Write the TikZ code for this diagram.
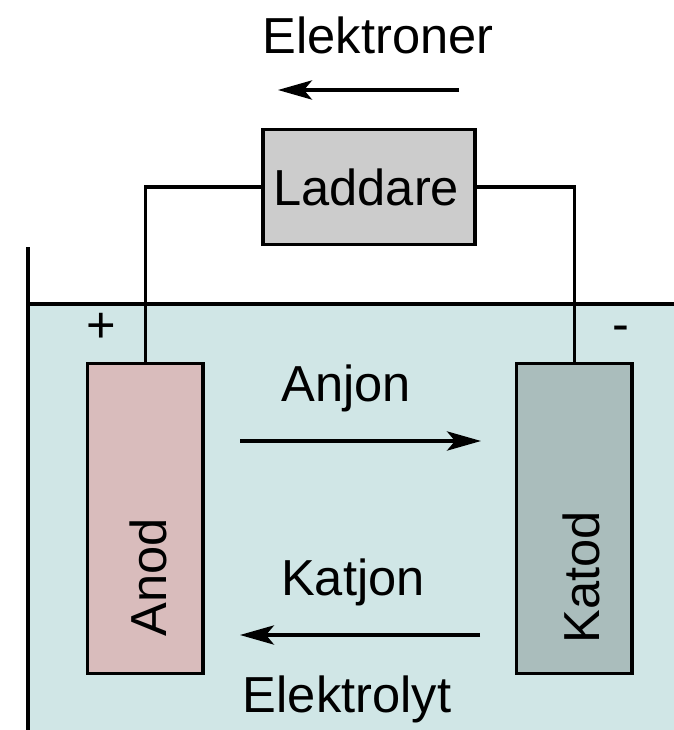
\documentclass[tikz,border=0pt]{standalone}
\usepackage{fontspec}
\setmainfont{Liberation Sans}
\usetikzlibrary{arrows.meta}
\definecolor{bathcol}{RGB}{208,230,230}
\definecolor{anodcol}{RGB}{217,188,188}
\definecolor{katodcol}{RGB}{170,189,188}
\definecolor{laddcol}{RGB}{204,204,204}
\tikzset{
  plate/.style={draw, line width=2.6pt, outer sep=0pt, minimum width=2.89cm, minimum height=7.75cm, anchor=south west, inner sep=0pt},
  lbl/.style={font=\fontsize{36}{36}\selectfont, inner sep=0pt},
  wire/.style={line width=2.2pt},
  flow/.style={line width=2.2pt, -{Stealth[length=0.85cm, width=0.48cm, inset=0.2cm]}}
}
\begin{document}
\begin{tikzpicture}[x=0.025cm, y=-0.025cm]
  \useasboundingbox (0, 0) rectangle (674, 730);
  \fill[bathcol] (28, 304) rectangle (674, 730);
  \draw[wire] (28, 247) -- (28, 730);
  \draw[wire] (28, 304) -- (674, 304);

  \node[plate, fill=anodcol] (anod) at (87.5, 673.5) {};
  \node[plate, fill=katodcol] (katod) at (516.5, 673.5) {};

  \draw[wire] (369, 187) -- (anod.north |- 0, 187) -- (anod.north);
  \draw[wire] (369, 187) -- (katod.north |- 0, 187) -- (katod.north);
  \node[draw, line width=2.6pt, outer sep=0pt, fill=laddcol, minimum width=5.3cm, minimum height=2.875cm, inner sep=0pt, font=\fontsize{36}{36}\selectfont] (laddare) at (369, 187) {\hspace{-4pt}\raisebox{-2pt}{Laddare}};

  \node[lbl, rotate=90] (anodtext) at (148, 577) {Anod};
  \node[lbl, rotate=90] (katodtext) at (581, 577) {Katod};
  \node[lbl] (elektroner) at (378, 35) {Elektroner};
  \node[lbl] (anjon) at (346, 388) {Anjon};
  \node[lbl] (katjon) at (353, 582) {Katjon};
  \node[lbl] (elektrolyt) at (347, 699) {Elektrolyt};
  \node[lbl] (plus) at (101, 328) {+};
  \node[lbl] (minus) at (621, 334) {-};

  \coordinate (e1) at (459, 90);
  \coordinate (e2) at (278, 90);
  \coordinate (a1) at (240, 441);
  \coordinate (a2) at (481, 441);
  \coordinate (k1) at (480, 635);
  \coordinate (k2) at (240, 635);
  \draw[flow] (e1) -- (e2);
  \draw[flow] (a1) -- (a2);
  \draw[flow] (k1) -- (k2);
\end{tikzpicture}
\end{document}
